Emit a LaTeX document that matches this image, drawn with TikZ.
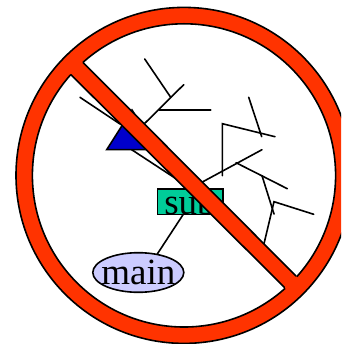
\documentclass[tikz,border=0pt]{standalone}
\usepackage{fontspec}
\setmainfont{Liberation Serif}
\usetikzlibrary{shapes.geometric}
\definecolor{ringred}{HTML}{FF3300}
\definecolor{subgreen}{HTML}{00CC99}
\definecolor{mainblue}{HTML}{CCCCFF}
\definecolor{triblue}{HTML}{0000CC}
\tikzset{
  edge/.style={draw=black,line width=1.6pt,line cap=round,line join=miter},
  label/.style={inner sep=0pt,font=\fontsize{37}{40}\selectfont},
  subbox/.style={label,rectangle,draw=black,line width=1.6pt,fill=subgreen,minimum width=65.4pt,minimum height=25.6pt,text depth=0pt},
  mainell/.style={label,ellipse,draw=black,line width=1.6pt,fill=mainblue,minimum width=91pt,minimum height=39.6pt},
  tri/.style={draw=black,line width=1.6pt,fill=triblue,line join=miter}
}
\begin{document}
\begin{tikzpicture}[x=1pt,y=-1pt]
\useasboundingbox (0,0) rectangle (341,344);
\clip (0,0) rectangle (341,344);
\fill[white] (0,0) rectangle (341,344);
% named places of the tree
\coordinate (t1) at (80,97.3);
\coordinate (t2) at (120,124);
\coordinate (a0) at (130,138);
\coordinate (a1) at (183.7,84.7);
\coordinate (a2) at (170.7,97.3);
\coordinate (a3) at (144.7,59);
\coordinate (a4) at (159.3,110.3);
\coordinate (a5) at (210.7,110.3);
\coordinate (b0) at (190,188.7);
\coordinate (b1) at (262,149.7);
\coordinate (b2) at (236,162.7);
\coordinate (b3) at (287.3,188.7);
\coordinate (b4) at (262,175.7);
\coordinate (b5) at (274,214);
\coordinate (c1) at (222.3,175.7);
\coordinate (c2) at (222.3,123.7);
\coordinate (c3) at (275,136.7);
\coordinate (c4) at (248.7,97.3);
\coordinate (c5) at (261.7,136.7);
\coordinate (d1) at (262.5,250);
\coordinate (d2) at (274,201.7);
\coordinate (d3) at (313.7,214.3);
\coordinate (tb) at (131.7,149.7);
\coordinate (m1) at (157.3,254);
\coordinate (s1) at (183.3,214.3);
% nodes
\node[subbox] (sub) at (190,201.5) {\raisebox{-1pt}{sub}};
\node[mainell] (main) at (138.3,272.5) {\makebox[0pt]{\raisebox{-1pt}{main}}};
% connectors
\draw[edge] (m1) -- (s1);
\draw[edge] (sub.north) -- (tb);
\draw[edge] (t1) -- (t2);
\draw[edge] (a0) -- (a1);
\draw[edge] (a2) -- (a3);
\draw[edge] (a4) -- (a5);
\draw[edge] (b0) -- (b1);
\draw[edge] (b2) -- (b3);
\draw[edge] (b4) -- (b5);
\draw[edge] (c1) -- (c2) -- (c3);
\draw[edge] (c4) -- (c5);
\draw[edge] (d1) -- (d2) -- (d3);
% triangle
\draw[tri] (106.7,149.7) -- (132,110) -- (157,149.7) -- cycle;
% prohibition sign
\path[fill=ringred,even odd rule,draw=black,line width=1.6pt]
  (184,175.4) circle (168) (184,175.4) circle (151.6);
\fill[ringred] (76.3,55.7) -- (64,67.7) -- (291.3,294.3) -- (303,283) -- cycle;
\draw[edge] (83.3,62.7) -- (296,276);
\draw[edge] (71,74.7) -- (284.3,287.3);
\end{tikzpicture}
\end{document}
